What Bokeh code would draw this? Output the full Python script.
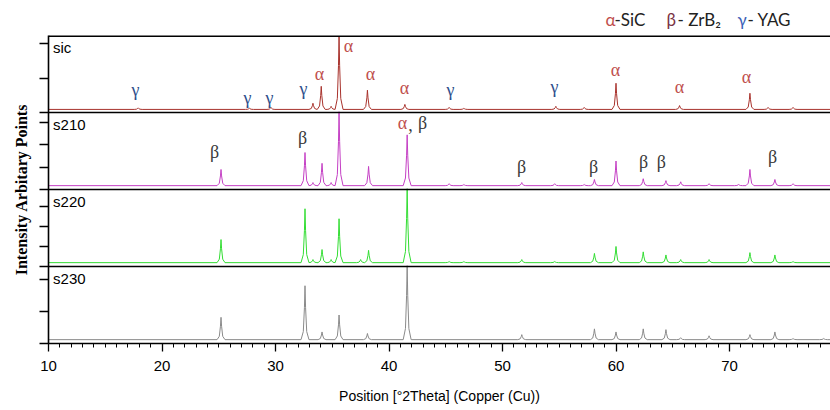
from bokeh.plotting import figure
from bokeh.layouts import column
from bokeh.models import (Range1d, FixedTicker, Span, Label, ColumnDataSource,
                          CustomJSTickFormatter)
from bokeh.core.properties import value
from bokeh.embed import file_html
from bokeh.resources import INLINE

# ---------------- data ----------------
x_major_ticks = [10, 20, 30, 40, 50, 60, 70]
x_minor_ticks = list(range(10, 79))
sample_names = ["sic", "s210", "s220", "s230"]

# peak positions (deg 2theta) and heights (% of panel height above baseline)
sic_pos = [17.9, 27.7, 29.6, 33.3, 34.03, 34.9, 35.6, 38.1, 41.4, 45.3, 46.6, 54.7, 57.2, 60.0, 65.6, 71.8, 73.4, 75.6]
sic_int = [2, 1.5, 2.5, 8, 30, 4, 95, 25, 6.5, 2.5, 1.5, 4, 2.5, 34, 5, 21, 2.5, 2.5]
sic_base = 4

s210_pos = [25.2, 32.6, 33.3, 34.1, 34.9, 35.6, 38.2, 41.6, 45.3, 46.6, 51.7, 54.6, 57.2, 58.1, 60.0, 62.4, 64.4, 65.7, 68.2, 70.8, 71.8, 74.0, 75.6]
s210_int = [21, 43, 4, 29, 4, 96, 25, 66, 2.5, 1.5, 4, 2.5, 1.5, 8, 32, 9, 6.5, 5, 2.5, 1.5, 21, 8, 2.5]
s210_base = 5

s220_pos = [25.2, 32.6, 33.3, 34.1, 34.9, 35.6, 37.5, 38.2, 41.6, 45.3, 46.6, 51.7, 54.6, 58.1, 60.0, 62.4, 64.4, 65.7, 68.2, 71.8, 74.0, 75.6]
s220_int = [30, 70, 4, 17, 4, 57, 4, 16, 96, 1.5, 1.5, 4, 1.5, 12, 21, 14, 10, 4, 4, 13, 10, 1.5]
s220_base = 5

s230_pos = [25.2, 32.6, 34.1, 35.6, 38.1, 41.6, 51.7, 58.1, 60.0, 62.4, 64.4, 65.7, 68.2, 71.8, 74.0, 75.6, 78.3]
s230_int = [29, 70, 10, 32, 8, 96, 6.5, 14, 10, 14, 13, 2.5, 5, 6.5, 10, 1.5, 1.5]
s230_base = 5

# peak phase labels: position (deg), level (% of panel), text
sic_lab_x = [17.67, 27.53, 29.47, 32.47, 33.88, 36.43, 38.37, 41.37, 45.42, 54.58, 59.96, 65.6, 71.5]
sic_lab_y = [28.6, 18.2, 18.2, 29.9, 50.6, 86.0, 49.4, 31.2, 28.6, 32.5, 55.8, 32.5, 45.5]
sic_lab_t = ["γ", "γ", "γ", "γ", "α", "α", "α", "α", "γ", "γ", "α", "α", "α"]

s210_lab_x = [24.63, 32.38, 41.19, 41.89, 42.95, 51.67, 58.02, 62.42, 64.0, 73.79]
s210_lab_y = [48.1, 67.5, 86.5, 84.0, 86.5, 28.6, 28.6, 35.1, 35.1, 41.6]
s210_lab_t = ["β", "β", "α", ",", "β", "β", "β", "β", "β", "β"]

# phase legend (text pieces, colours)
legend_text = ["α", "-SiC", "β", "- ZrB₂", "γ", "- YAG"]
legend_colors = ["#c0504d", "#222222", "#7a3344", "#222222", "#3d5fb8", "#222222"]

# y tick step (% of panel) for each panel
sic_tick_step, s210_tick_step, s220_tick_step, s230_tick_step = 44.8, 29.0, 26.0, 41.6

# ---------------- styling / layout ----------------
PX_PER_DEG = 11.35
LEFT = 48
FRAME_W, FRAME_H = 782, 308
X0, X1 = 10, 10 + FRAME_W / PX_PER_DEG
PANEL = 100
TOP_H = 35
phase_colors = {"α": "#c0504d", "β": "#3a3a3a", "γ": "#2f4e8c", ",": "#3a3a3a"}
line_colors = ["#a8322c", "#c43fc4", "#33dd33", "#8a8a8a"]
shape_dx = [-0.35, -0.15, -0.05, 0, 0.05, 0.15, 0.35]
shape_fy = [0, 0.15, 0.6, 1, 0.6, 0.15, 0]
legend_px = [605, 614, 666, 677, 737, 747]   # left edge of each legend piece (px)


def profile(pos, inten, base, offset):
    xs, ys = [X0], [offset + base]
    for p_, h in sorted(zip(pos, inten)):
        xs += [p_ + d for d in shape_dx]
        ys += [offset + base + f * h for f in shape_fy]
    xs.append(X1)
    ys.append(offset + base)
    return xs, ys


# ---- top strip holding the phase legend ----
leg = figure(frame_width=FRAME_W, frame_height=TOP_H, min_border_left=LEFT, min_border_right=0,
             min_border_top=0, min_border_bottom=0, x_range=Range1d(X0, X1),
             y_range=Range1d(0, TOP_H), x_axis_type=None, y_axis_type=None,
             output_backend="svg", toolbar_location=None)
leg.grid.visible = False
leg.outline_line_color = None
leg.border_fill_color = "white"
leg_src = ColumnDataSource(dict(x=[X0 + (v - LEFT) / PX_PER_DEG for v in legend_px],
                                y=[TOP_H - 19] * len(legend_text), t=legend_text, c=legend_colors))
leg.text(x="x", y="y", text="t", text_color="c", source=leg_src, text_font=value("Lato"),
         text_font_size="17px", text_align="left", text_baseline="middle")

# ---- main stacked plot ----
p = figure(frame_width=FRAME_W, frame_height=FRAME_H, min_border_left=LEFT, min_border_right=0,
           min_border_top=0, min_border_bottom=67,
           x_range=leg.x_range, y_range=Range1d(0, 4 * PANEL),
           output_backend="svg", toolbar_location=None)
p.grid.visible = False
p.outline_line_color = None
p.background_fill_color = "white"
p.border_fill_color = "white"

series = [(sic_pos, sic_int, sic_base), (s210_pos, s210_int, s210_base),
          (s220_pos, s220_int, s220_base), (s230_pos, s230_int, s230_base)]
for i, (pos, inten, base) in enumerate(series):
    off = (3 - i) * PANEL
    xs, ys = profile(pos, inten, base, off)
    p.line(xs, ys, line_color=line_colors[i], line_width=1)

# panel separators and top border
for yb in [PANEL, 2 * PANEL, 3 * PANEL]:
    p.add_layout(Span(location=yb, dimension="width", line_color="black", line_width=1.6))
p.add_layout(Span(location=4 * PANEL, dimension="width", line_color="black", line_width=3.2))

# peak labels
def add_labels(xs, ys, ts, off):
    src = ColumnDataSource(dict(x=xs, y=[off + v for v in ys], t=ts,
                                c=[phase_colors[t] for t in ts]))
    p.text(x="x", y="y", text="t", source=src, text_color="c",
           text_font=value("Liberation Serif"), text_font_size="18px",
           text_align="center", text_baseline="middle")

add_labels(sic_lab_x, sic_lab_y, sic_lab_t, 3 * PANEL)
add_labels(s210_lab_x, s210_lab_y, s210_lab_t, 2 * PANEL)

# panel names
for i, name in enumerate(sample_names):
    top = (4 - i) * PANEL
    p.add_layout(Label(x=10.4, y=top - 3.5 * 400 / 308, text=name, text_align="left",
                       text_baseline="top", text_font="Liberation Sans",
                       text_font_size="15px", text_color="black"))

# y ticks (unlabelled)
yt = []
for k, step in enumerate([s230_tick_step, s220_tick_step, s210_tick_step, sic_tick_step]):
    j = 0
    while j * step < PANEL - 1e-6:
        yt.append(k * PANEL + j * step)
        j += 1
p.yaxis.ticker = FixedTicker(ticks=sorted(set(yt)))
p.yaxis.formatter = CustomJSTickFormatter(code="return ''")
p.yaxis.major_label_standoff = 0
p.yaxis.major_tick_out = 9
p.yaxis.major_tick_in = 0
p.yaxis.minor_tick_out = 0
p.yaxis.axis_line_width = 1.6
p.yaxis.major_tick_line_width = 1.3
p.yaxis.axis_label = "Intensity Arbitary Points"
p.yaxis.axis_label_text_font = "Liberation Serif"
p.yaxis.axis_label_text_font_style = "bold"
p.yaxis.axis_label_text_font_size = "16px"
p.yaxis.axis_label_text_color = "black"
p.yaxis.axis_label_standoff = 10

# x axis
p.xaxis.ticker = FixedTicker(ticks=x_major_ticks, minor_ticks=x_minor_ticks)
p.xaxis.major_tick_out = 8
p.xaxis.major_tick_in = 0
p.xaxis.minor_tick_out = 4
p.xaxis.minor_tick_in = 0
p.xaxis.axis_line_width = 1.6
p.xaxis.major_tick_line_width = 1.3
p.xaxis.major_label_text_font = "Liberation Sans"
p.xaxis.major_label_text_font_size = "15px"
p.xaxis.major_label_text_color = "black"
p.xaxis.major_label_standoff = 9
p.xaxis.axis_label = "Position [°2Theta] (Copper (Cu))"
p.xaxis.axis_label_text_font = "Liberation Sans"
p.xaxis.axis_label_text_font_size = "14px"
p.xaxis.axis_label_text_font_style = "normal"
p.xaxis.axis_label_text_color = "black"
p.xaxis.axis_label_standoff = 14

layout = column(leg, p, spacing=0)
open("out.html", "w").write(file_html(layout, INLINE))
